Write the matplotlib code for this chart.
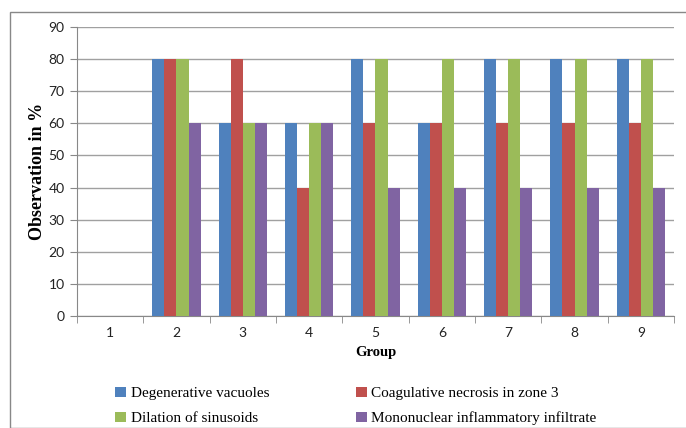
import numpy as np
import matplotlib
matplotlib.use("Agg")
import matplotlib.pyplot as plt
from matplotlib.patches import Rectangle

groups = ["1", "2", "3", "4", "5", "6", "7", "8", "9"]
series_names = ["Degenerative vacuoles", "Coagulative necrosis in zone 3",
                "Dilation of sinusoids", "Mononuclear inflammatory infiltrate"]
degenerative = [0, 80, 60, 60, 80, 60, 80, 80, 80]
coagulative = [0, 80, 80, 40, 60, 60, 60, 60, 60]
dilation = [0, 80, 60, 60, 80, 80, 80, 80, 80]
mononuclear = [0, 60, 60, 60, 40, 40, 40, 40, 40]
colors = ["#4F81BD", "#C0504D", "#9BBB59", "#8064A2"]

W, H = 686, 428
fig = plt.figure(figsize=(W / 100, H / 100), dpi=100)

# outer chart frame (cut off by the image on the right and bottom)
fig.patches.append(Rectangle((10 / W, 0), 1.2, 1 - 12 / H, transform=fig.transFigure,
                             fill=False, edgecolor="#888888", linewidth=1.0))

left, right, top, bottom = 77, 674, 27, 316
ax = fig.add_axes([left / W, 1 - bottom / H, (right - left) / W, (bottom - top) / H])

data = [degenerative, coagulative, dilation, mononuclear]
x = np.arange(len(groups))
bw = 12 / 66.3
for i, (vals, name, c) in enumerate(zip(data, series_names, colors)):
    ax.bar(x + (i - 1.5) * bw, vals, width=bw, color=c, label=name, zorder=3,
           edgecolor="none")

ax.set_xlim(-0.5, len(groups) - 0.5)
ax.set_ylim(0, 90)
ax.set_yticks(range(0, 91, 10))
ax.set_xticks(x)
ax.set_xticklabels(groups)
ax.set_xticks(np.arange(-0.5, len(groups), 1), minor=True)
ax.tick_params(axis="x", which="major", length=0, pad=8)
ax.tick_params(axis="x", which="minor", length=5, color="#888888", direction="out")
ax.tick_params(axis="y", length=5, color="#888888", direction="out", pad=4)
for lab in ax.get_xticklabels() + ax.get_yticklabels():
    lab.set_fontfamily("Lato")
    lab.set_fontsize(10)
    lab.set_color("#222222")

ax.grid(axis="y", color="#a0a0a0", linewidth=1.0, zorder=0)
for s in ["top", "right"]:
    ax.spines[s].set_visible(False)
ax.spines["left"].set_color("#888888")
ax.spines["bottom"].set_color("#888888")

ax.set_ylabel("Observation in %", fontfamily="Liberation Serif", fontweight="bold",
              fontsize=13, labelpad=2)
ax.set_xlabel("Group", fontfamily="Liberation Serif", fontweight="bold",
              fontsize=10.5, labelpad=5)

handles, labels = ax.get_legend_handles_labels()
order = [0, 2, 1, 3]
fig.legend([handles[i] for i in order], [labels[i] for i in order],
           loc="center", bbox_to_anchor=(356 / W, 1 - 406 / H),
           ncol=2, frameon=False, prop={"family": "Liberation Serif", "size": 11},
           handlelength=0.7, handleheight=0.7, handletextpad=0.3,
           columnspacing=5.7, labelspacing=0.75)

fig.savefig("out.png", dpi=100)
